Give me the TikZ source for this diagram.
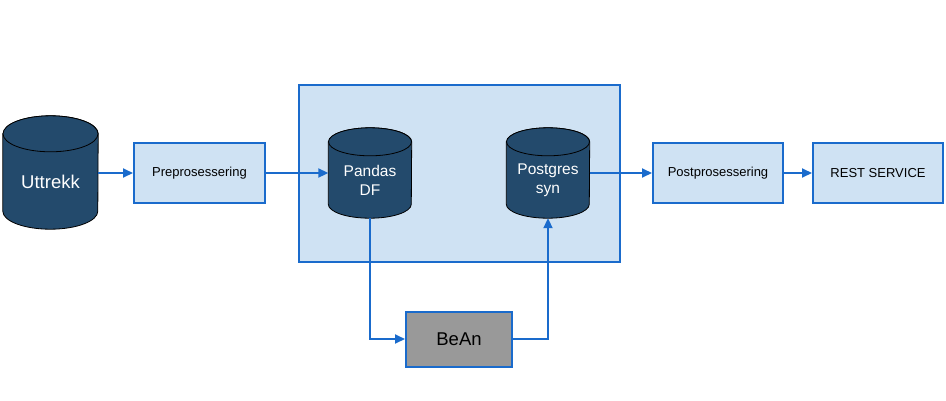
\documentclass[tikz,border=0pt]{standalone}
\usepackage{fontspec}
\setmainfont{Liberation Sans}
\usetikzlibrary{arrows.meta, backgrounds}

\definecolor{flowblue}{HTML}{1A6BCC}
\definecolor{boxfill}{HTML}{CFE2F3}
\definecolor{dbnavy}{HTML}{234A6C}
\definecolor{beangray}{HTML}{999999}

\tikzset{
  stagebox/.style={draw=flowblue, line width=2pt, fill=boxfill, minimum width=131pt,
    minimum height=60pt, font=\fontsize{13}{15}\selectfont},
  group/.style={draw=flowblue, line width=2pt, fill=boxfill, minimum width=321pt,
    minimum height=177pt},
  db/.style={minimum width=83pt, minimum height=76pt, inner sep=0pt, text=white,
    align=center, font=\fontsize{15.5}{19}\selectfont},
  dbcyl/.style={draw=black, line width=0.8pt, fill=dbnavy},
  flow/.style={draw=flowblue, line width=2pt, -{Triangle[length=10pt,width=9pt]}}
}

\begin{document}
\begin{tikzpicture}[x=1pt, y=1pt]
\useasboundingbox (0,0) rectangle (946,-400);
% databases
\node[db, minimum width=95pt, minimum height=95pt, font=\fontsize{18.5}{22}\selectfont] (uttrekk) at (50.5,-181.5) {Uttrekk};
\node[db] (pandas) at (370,-180) {Pandas\\DF};
\node[db] (postgres) at (548,-180) {Postgres\\syn};
% steps
\node[stagebox] (prep) at (199.5,-173) {Preprosessering};
\node[stagebox, minimum width=130pt] (post) at (718,-173) {Postprosessering};
\node[stagebox, minimum width=130pt] (rest) at (878,-173) {REST SERVICE};
\node[stagebox, fill=beangray, minimum width=106pt, minimum height=55pt,
  font=\fontsize{18.5}{22}\selectfont] (bean) at (459,-339) {BeAn};
\begin{scope}[on background layer]
\node[group] (container) at (459,-173.5) {};
\foreach \n/\a/\b in {uttrekk/47.5/18, pandas/41.5/14, postgres/41.5/14}{
  \draw[dbcyl] (\n.north west) -- ([yshift=\b pt]\n.south west)
    arc[start angle=180, end angle=360, x radius=\a, y radius=\b]
    -- (\n.north east)
    arc[start angle=0, end angle=180, x radius=\a, y radius=\b] -- cycle;
  \draw[dbcyl] (\n.north) ellipse[x radius=\a, y radius=\b];
}
\end{scope}
% connectors
\draw[flow] (uttrekk.east |- prep.west) -- (prep.west);
\draw[flow] (prep.east) -- (prep.east -| pandas.west);
\draw[flow] (pandas.south) |- (bean.west);
\draw[flow] (bean.east) -| (postgres.south);
\draw[flow] (postgres.east |- post.west) -- (post.west);
\draw[flow] (post.east) -- (rest.west);
\end{tikzpicture}
\end{document}
